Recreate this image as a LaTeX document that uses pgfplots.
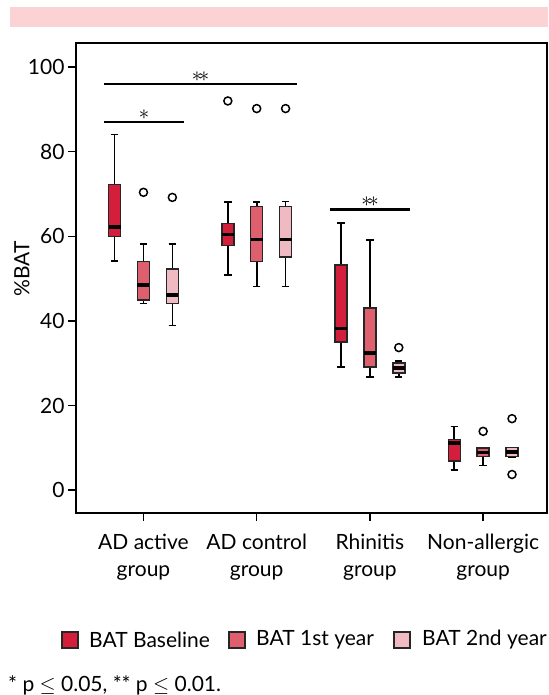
\documentclass[border=0pt]{standalone}
\usepackage{fontspec}
\setmainfont{Lato}
\usepackage{pgfplots}
\pgfplotsset{compat=1.18}
\usepgfplotslibrary{statistics}

\definecolor{BatBase}{HTML}{D31F3C}
\definecolor{BatOne}{HTML}{DE5F6E}
\definecolor{BatTwo}{HTML}{F0BAC3}
\definecolor{TopBand}{HTML}{FBD3D5}

% \bx{position}{colour}{lower whisker}{Q1}{median}{Q3}{upper whisker}
\newcommand{\bx}[7]{%
  \addplot+[draw=black!85, fill=#2, line width=1.5pt, solid, mark=none,
    boxplot prepared={draw position=#1, lower whisker=#3, lower quartile=#4,
      median=#5, upper quartile=#6, upper whisker=#7}] coordinates {};}

\newcommand{\txt}{\fontsize{21}{27}\selectfont}
\newcommand{\stars}[1]{{\fontsize{22}{22}\selectfont$#1$}}

\begin{document}
\begin{tikzpicture}[x=1pt, y=1pt]
\path[use as bounding box] (0,0) rectangle (548,695);
\fill[TopBand] (10,668) rectangle (548,688);

\begin{axis}[
  at={(76pt,182pt)}, anchor=south west,
  width=471pt, height=470pt, scale only axis,
  xmin=0.404, xmax=4.564,
  ymin=-5.4, ymax=105.7,
  xtick={1,2,3,4},
  xticklabels={{AD active\\group},{AD control\\group},{Rhinitis\\group},{Non-allergic\\group}},
  x tick label style={align=center, font=\txt, yshift=-10pt},
  ytick={0,20,40,60,80,100},
  tick label style={font=\txt},
  /pgf/number format/assume math mode=true,
  tick align=outside, xtick pos=bottom, ytick pos=left,
  major tick length=8pt,
  tick style={line width=1.5pt, black},
  axis line style={line width=2pt},
  ylabel={\%BAT},
  ylabel style={font=\txt, at={(axis description cs:-0.115,0.52)}, anchor=center},
  boxplot/draw direction=y,
  boxplot/box extend=0.106,
  boxplot/whisker extend=0.065,
  boxplot/every median/.style={line width=3.5pt, black},
  boxplot/every whisker/.style={line width=1.6pt, black},
  clip=false,
]
% AD active group
\bx{0.745}{BatBase}{54.1}{60.0}{62.2}{72.3}{84.1}
\bx{1.000}{BatOne}{44.1}{44.9}{48.5}{54.1}{58.2}
\bx{1.255}{BatTwo}{38.9}{44.1}{46.1}{52.3}{58.2}
% AD control group
\bx{1.745}{BatBase}{50.9}{57.8}{60.4}{63.0}{68.1}
\bx{2.000}{BatOne}{48.1}{54.1}{59.2}{67.1}{68.1}
\bx{2.255}{BatTwo}{48.1}{55.1}{59.2}{67.1}{68.2}
% Rhinitis group
\bx{2.745}{BatBase}{29.1}{35.0}{38.2}{53.2}{63.1}
\bx{3.000}{BatOne}{26.8}{29.1}{32.4}{43.1}{59.1}
\bx{3.255}{BatTwo}{26.8}{27.7}{28.9}{30.1}{30.5}
% Non-allergic group
\bx{3.745}{BatBase}{4.8}{6.9}{11.2}{12.0}{15.0}
\bx{4.000}{BatOne}{5.8}{7.9}{8.9}{10.0}{10.0}
\bx{4.255}{BatTwo}{7.9}{7.9}{9.0}{10.1}{10.1}

% outliers
\addplot[only marks, mark=o, mark size=4pt, mark options={line width=1.5pt, draw=black}]
  coordinates {(1,70.4) (1.255,69.2) (1.745,92.0) (2,90.2) (2.255,90.2)
               (3.255,33.7) (4,13.9) (4.255,16.9) (4.255,3.7)};

% significance brackets
\draw[line width=2.6pt] (axis cs:0.651,96) -- (axis cs:2.356,96)
  node[midway, above, inner sep=1.5pt] {\stars{\ast\!\ast}};
\draw[line width=2.6pt] (axis cs:0.651,87) -- (axis cs:1.358,87)
  node[midway, above, inner sep=1.5pt] {\stars{\ast}};
\draw[line width=2.6pt] (axis cs:2.647,66.4) -- (axis cs:3.354,66.4)
  node[midway, above, inner sep=1.5pt] {\stars{\ast\!\ast}};
\end{axis}

% legend
\filldraw[fill=BatBase, draw=black!85, line width=1.3pt] (62,47) rectangle (78,63);
\node[anchor=west, inner sep=0pt, font=\txt] at (89,55) {BAT Baseline};
\filldraw[fill=BatOne, draw=black!85, line width=1.3pt] (229,47) rectangle (245,63);
\node[anchor=west, inner sep=0pt, font=\txt] at (256,55) {BAT 1st year};
\filldraw[fill=BatTwo, draw=black!85, line width=1.3pt] (394,47) rectangle (410,63);
\node[anchor=west, inner sep=0pt, font=\txt] at (422,55) {BAT 2nd year};

% footnote
\node[anchor=base west, inner sep=0pt, font=\txt] at (8,4) {* p $\leq$ 0.05, ** p $\leq$ 0.01.};
\end{tikzpicture}
\end{document}
